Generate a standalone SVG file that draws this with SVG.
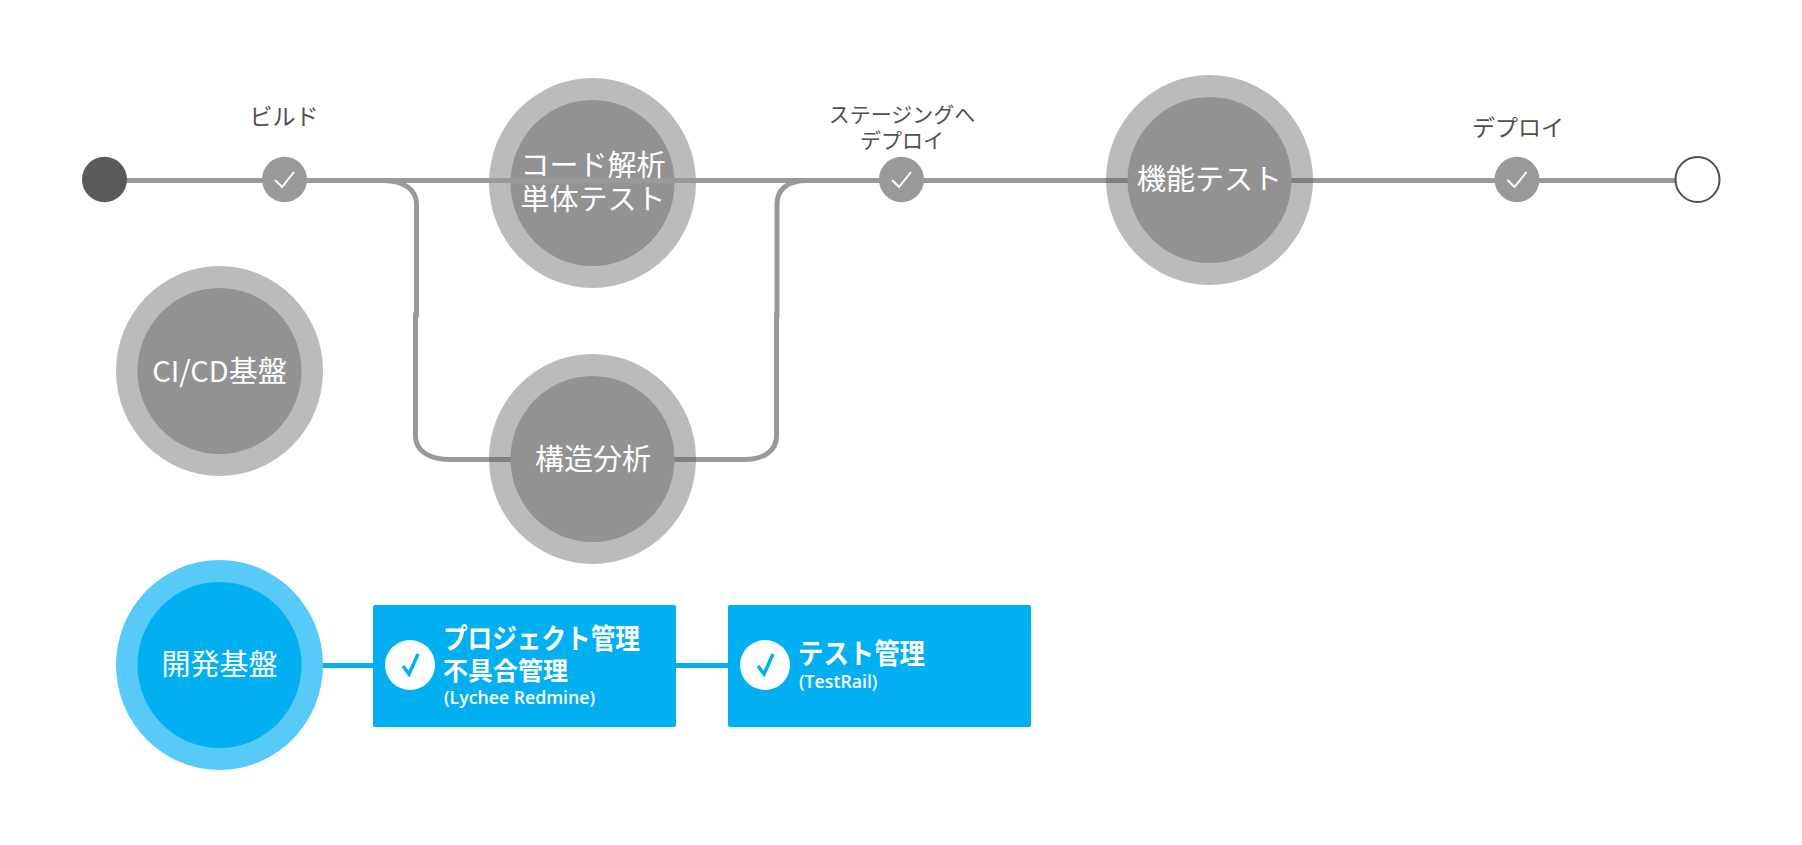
<svg xmlns="http://www.w3.org/2000/svg" width="1802" height="845" viewBox="0 0 1802 845">
<defs><style>
text{font-family:"Open Sans","Noto Sans CJK JP",sans-serif;text-anchor:middle}
.ring{fill:#bbb}.core{fill:#929292}.bring{fill:#58caf7}.bcore{fill:#02b0f2}
.big{font-family:"Noto Sans CJK JP",sans-serif;font-size:29px;fill:#fff}
.cap{font-family:"Noto Sans CJK JP",sans-serif;font-size:23px;fill:#505050}
.cap2{font-family:"Noto Sans CJK JP",sans-serif;font-size:21px;fill:#505050}
.line{fill:none;stroke:#999;stroke-width:5}
.bline{fill:none;stroke:#02b0f2;stroke-width:5}
.dot{fill:#999}.chk{fill:none;stroke:#fff;stroke-width:2}
.bchk{fill:none;stroke:#02b0f2;stroke-width:3.5}
.box{fill:#02b0f2}.h{font-family:"Noto Sans CJK JP",sans-serif;font-weight:700;fill:#fff;text-anchor:start}
.sub{font-size:17.700px;font-weight:600;fill:#fff;text-anchor:start}
</style></defs>
<rect width="1802" height="845" fill="#fff"/>
<g id="connectors">
<path class="line" d="M104 180.500H1680"/>
<path class="line" d="M380 180.500H384C404 180.500 416.500 190 416.500 204V315L415.500 315V436C415.500 450 428 459.500 450 459.500H512"/>
<path class="line" d="M850 180.500H807C787 180.500 777 190 777 204V315L776.500 315V436C776.500 450 765 459.500 744 459.500H674"/>
<path class="bline" d="M322 665.500H728"/>
</g>
<g id="start"><ellipse cx="104.500" cy="179.500" rx="22.500" ry="22.700" fill="#5a5a5a"/></g>
<g id="build"><ellipse cx="284.500" cy="179.500" rx="22.500" ry="22.700" class="dot"/><path class="chk" d="M275 180L282 187L294 172"/><text class="cap" x="284" y="125">ビルド</text></g>
<g id="code"><ellipse cx="592.500" cy="183" rx="103.500" ry="105" class="ring"/><ellipse cx="592.500" cy="183" rx="82" ry="83" class="core"/><path class="line" d="M489 180.500H696"/><text class="big" x="593" y="175.500">コード解析</text><text class="big" x="593" y="209.500">単体テスト</text></g>
<g id="struct"><ellipse cx="592.500" cy="459" rx="103.500" ry="105" class="ring"/><path d="M489 459.500H696" stroke="#808080" stroke-width="5"/><ellipse cx="592.500" cy="459" rx="82" ry="83" class="core"/><text class="big" x="593" y="470">構造分析</text></g>
<g id="cicd"><ellipse cx="219.500" cy="371" rx="103.500" ry="105" class="ring"/><ellipse cx="219.500" cy="371" rx="82" ry="83" class="core"/><text class="big" x="219.500" y="382">CI/CD基盤</text></g>
<g id="stage"><ellipse cx="901.500" cy="179.500" rx="22.500" ry="22.700" class="dot"/><path class="chk" d="M892 180L899 187L911 172"/><text class="cap2" x="902" y="122">ステージングへ</text><text class="cap2" x="902" y="148">デプロイ</text></g>
<g id="func"><ellipse cx="1209.500" cy="180" rx="103.500" ry="105" class="ring"/><path d="M1106 180.500H1313" stroke="#808080" stroke-width="5"/><ellipse cx="1209.500" cy="180" rx="82" ry="83" class="core"/><text class="big" x="1209.500" y="189.500">機能テスト</text></g>
<g id="deploy"><ellipse cx="1517" cy="179.500" rx="22.500" ry="22.700" class="dot"/><path class="chk" d="M1507.500 180L1514.500 187L1526.500 172"/><text class="cap" x="1518" y="136">デプロイ</text></g>
<g id="end"><ellipse cx="1697.500" cy="179.500" rx="22" ry="22.500" fill="#fff" stroke="#505050" stroke-width="2"/></g>
<g id="devbase"><ellipse cx="219.500" cy="665" rx="103.500" ry="105" class="bring"/><ellipse cx="219.500" cy="665" rx="82" ry="83" class="bcore"/><text class="big" x="219.500" y="675">開発基盤</text></g>
<g id="pm"><rect class="box" x="373" y="605" width="303" height="122" rx="2"/><circle cx="410" cy="665" r="25" fill="#fff"/><path class="bchk" d="M403 666L409 674L418 654"/><text class="h" x="443" y="649" font-size="28" textLength="197" lengthAdjust="spacingAndGlyphs">プロジェクト管理</text><text class="h" x="443" y="680" font-size="25">不具合管理</text><text class="sub" x="444" y="704">(Lychee Redmine)</text></g>
<g id="tr"><rect class="box" x="728" y="605" width="303" height="122" rx="2"/><circle cx="765" cy="665" r="25" fill="#fff"/><path class="bchk" d="M758 666L764 674L773 654"/><text class="h" x="798" y="664" font-size="28" textLength="127" lengthAdjust="spacingAndGlyphs">テスト管理</text><text class="sub" x="799" y="688">(TestRail)</text></g>
</svg>
